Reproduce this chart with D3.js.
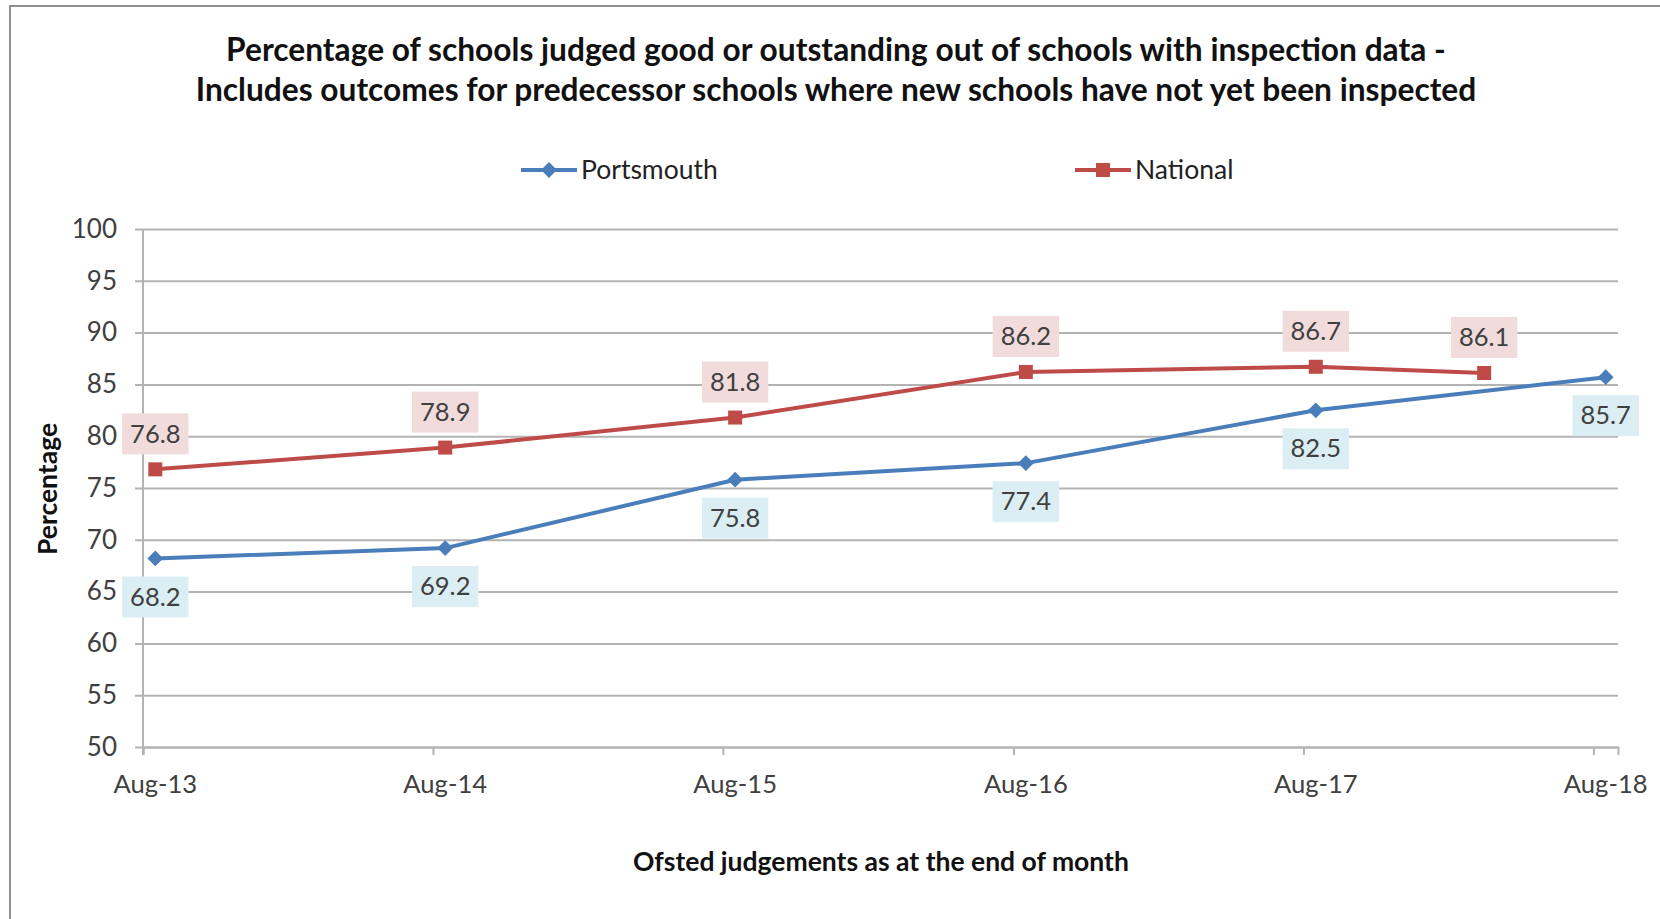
<!DOCTYPE html>
<html>
<head>
<meta charset="utf-8">
<script src="https://cdn.jsdelivr.net/npm/d3@7"></script>
<style>
  html, body { margin: 0; padding: 0; background: #fff; }
  svg { display: block; font-family: Lato, "Open Sans", sans-serif; }
</style>
</head>
<body>
<svg id="chart" width="1660" height="919"></svg>
<script>
// data
var tickLabels = ["Aug-13", "Aug-14", "Aug-15", "Aug-16", "Aug-17", "Aug-18"];
var portsmouthMonths = ["2013-08", "2014-08", "2015-08", "2016-08", "2017-08", "2018-08"];
var portsmouthValues = [68.2, 69.2, 75.8, 77.4, 82.5, 85.7];
var nationalMonths = ["2013-08", "2014-08", "2015-08", "2016-08", "2017-08", "2018-03"];
var nationalValues = [76.8, 78.9, 81.8, 86.2, 86.7, 86.1];
var yTicks = [50, 55, 60, 65, 70, 75, 80, 85, 90, 95, 100];

var BLUE = "#4a7ebb", RED = "#be4b48";
var GRID = "#b3b3b3", TEXT = "#404040";

var parseMonth = d3.timeParse("%Y-%m");
var fmtTick = d3.timeFormat("%b-%y");

// middle of a month - excel date axis puts points between the tick marks
function midMonth(m) {
    return new Date((+m + +d3.timeMonth.offset(m, 1)) / 2);
}

var series = [
    {name: "Portsmouth", color: BLUE, marker: "diamond", below: true,
     values: portsmouthMonths.map(function(m, i) { return {date: parseMonth(m), value: portsmouthValues[i]}; })},
    {name: "National", color: RED, marker: "square", below: false,
     values: nationalMonths.map(function(m, i) { return {date: parseMonth(m), value: nationalValues[i]}; })}
];

var svg = d3.select("#chart");
var marge = {top: 229, left: 143, right: 42, bottom: 172};
var width = 1660 - marge.left - marge.right;
var height = 919 - marge.top - marge.bottom;

// outer chart frame
svg.append("rect")
    .attr("x", 10).attr("y", 6)
    .attr("width", 1660).attr("height", 940)
    .attr("fill", "#fff")
    .attr("stroke", "#8f8f8f")
    .attr("stroke-width", 2);

var start = parseMonth("2013-08");
var x = d3.scaleTime()
    .domain([start, d3.timeMonth.offset(parseMonth("2018-08"), 1)])
    .range([0, width]);
var y = d3.scaleLinear().domain([50, 100]).range([height, 0]);

var g = svg.append("g")
    .attr("transform", "translate(" + marge.left + "," + marge.top + ")");

// gridlines + y axis
var yAxis = g.append("g")
    .call(d3.axisLeft(y).tickValues(yTicks).tickSize(-width).tickPadding(26).tickFormat(d3.format("d")));
yAxis.select(".domain").remove();
yAxis.selectAll(".tick line").attr("stroke", GRID).attr("stroke-width", 2).attr("x1", -8);
yAxis.selectAll(".tick text")
    .attr("font-size", 26).attr("fill", TEXT).attr("font-family", "Lato");

// x axis, ticks at start of August, labels centred in the month
var tickDates = tickLabels.map(function(t) { return d3.timeParse("%b-%y")(t); });
var xAxis = g.append("g")
    .attr("transform", "translate(0," + height + ")")
    .call(d3.axisBottom(x).tickValues(tickDates).tickSize(8).tickFormat(""));
xAxis.select(".domain").attr("stroke", GRID).attr("stroke-width", 2);
xAxis.selectAll(".tick line").attr("stroke", GRID).attr("stroke-width", 2);
g.append("g").selectAll("text")
    .data(tickDates)
    .enter().append("text")
    .attr("x", function(d) { return x(midMonth(d)); })
    .attr("y", height + 46)
    .attr("text-anchor", "middle")
    .attr("font-size", 25.6)
    .attr("fill", TEXT)
    .text(function(d) { return fmtTick(d); });

// vertical axis line
g.append("line")
    .attr("x1", 0).attr("x2", 0)
    .attr("y1", 0).attr("y2", height + 8)
    .attr("stroke", GRID).attr("stroke-width", 2);

var line = d3.line()
    .x(function(d) { return x(midMonth(d.date)); })
    .y(function(d) { return y(d.value); });

function drawMarker(sel, type, color, size) {
    if (type === "diamond") {
        sel.append("path")
            .attr("d", d3.symbol().type(d3.symbolDiamond2).size(size * size * 0.55))
            .attr("fill", color);
    } else {
        sel.append("rect")
            .attr("x", -size / 2).attr("y", -size / 2)
            .attr("width", size).attr("height", size)
            .attr("fill", color);
    }
}

series.forEach(function(s) {
    g.append("path")
        .datum(s.values)
        .attr("fill", "none")
        .attr("stroke", s.color)
        .attr("stroke-width", 4)
        .attr("stroke-linejoin", "round")
        .attr("d", line);

    var pts = g.append("g").selectAll("g")
        .data(s.values)
        .enter().append("g")
        .attr("transform", function(d) { return "translate(" + x(midMonth(d.date)) + "," + y(d.value) + ")"; });
    drawMarker(pts, s.marker, s.color, s.marker === "diamond" ? 17 : 14);
});

// data labels in tinted boxes
series.forEach(function(s) {
    var lab = g.append("g").selectAll("g")
        .data(s.values)
        .enter().append("g")
        .attr("transform", function(d) {
            return "translate(" + x(midMonth(d.date)) + "," + (y(d.value) + (s.below ? 38 : -36)) + ")";
        });
    lab.append("rect")
        .attr("fill", s.below ? "#dbeef4" : "#f2dcdb");
    lab.append("text")
        .attr("text-anchor", "middle")
        .attr("dy", "0.36em")
        .attr("font-size", 25.5)
        .attr("fill", TEXT)
        .text(function(d) { return d3.format(".1f")(d.value); });
    lab.each(function() {
        var box = d3.select(this).select("text").node().getBBox();
        d3.select(this).select("rect")
            .attr("x", -box.width / 2 - 8).attr("y", -20)
            .attr("width", box.width + 16).attr("height", 41);
    });
});

// title
var title = svg.append("text")
    .attr("text-anchor", "middle")
    .attr("font-weight", "bold")
    .attr("font-size", 31.7)
    .attr("fill", "#111");
title.append("tspan").attr("x", 836).attr("y", 61)
    .text("Percentage of schools judged good or outstanding out of schools with inspection data -");
title.append("tspan").attr("x", 836).attr("y", 101)
    .text("Includes outcomes for predecessor schools  where new schools  have not yet been inspected");

// legend
var legend = svg.append("g").selectAll("g")
    .data(series)
    .enter().append("g")
    .attr("transform", function(d, i) { return "translate(" + (i === 0 ? 521 : 1075) + ",170)"; });
legend.append("line")
    .attr("x1", 0).attr("x2", 56)
    .attr("stroke", function(d) { return d.color; })
    .attr("stroke-width", 4);
legend.each(function(d) {
    var m = d3.select(this).append("g").attr("transform", "translate(28,0)");
    drawMarker(m, d.marker, d.color, d.marker === "diamond" ? 17 : 14);
});
legend.append("text")
    .attr("x", 60)
    .attr("dy", "0.35em")
    .attr("font-size", 26.5)
    .attr("fill", "#222")
    .text(function(d) { return d.name; });

// axis titles
svg.append("text")
    .attr("transform", "translate(57,489) rotate(-90)")
    .attr("text-anchor", "middle")
    .attr("font-weight", "bold")
    .attr("font-size", 26.5)
    .attr("fill", "#111")
    .text("Percentage");
svg.append("text")
    .attr("x", 881).attr("y", 871)
    .attr("text-anchor", "middle")
    .attr("font-weight", "bold")
    .attr("font-size", 26.5)
    .attr("fill", "#111")
    .text("Ofsted judgements as at the end of month");
</script>
</body>
</html>
